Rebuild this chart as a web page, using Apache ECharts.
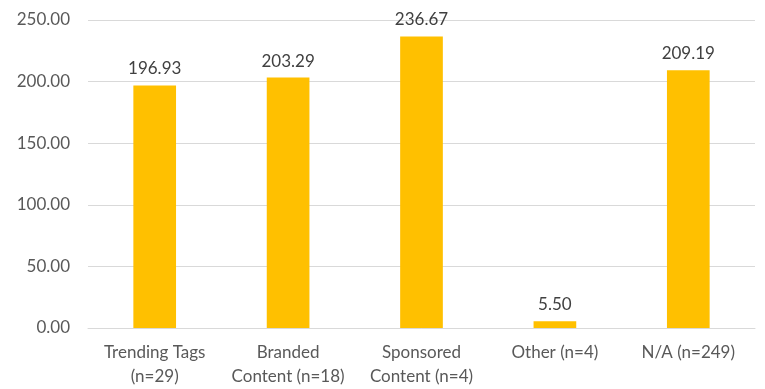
<!DOCTYPE html>
<html><head><meta charset="utf-8">
<script src="https://cdn.jsdelivr.net/npm/echarts@6/dist/echarts.min.js"></script>
<style>html,body{margin:0;padding:0;background:#fff}#c{width:765px;height:389px}</style>
</head><body><div id="c"></div>
<script>
const categories = ['Trending Tags\n(n=29)', 'Branded\nContent (n=18)', 'Sponsored\nContent (n=4)', 'Other (n=4)', 'N/A (n=249)'];
const values = [196.93, 203.29, 236.67, 5.50, 209.19];
const yTicks = [0, 50, 100, 150, 200, 250];

const chart = echarts.init(document.getElementById('c'));
const font = 'Lato, "Open Sans", sans-serif';
chart.setOption({
  animation: false,
  grid: {left: 88, right: 10, top: 20, bottom: 56, containLabel: false},
  xAxis: {
    type: 'category', data: categories,
    axisLine: {lineStyle: {color: '#d9d9d9', width: 1}},
    axisTick: {show: false},
    axisLabel: {color: '#595959', fontFamily: font, fontSize: 17, lineHeight: 24, margin: 13, interval: 0}
  },
  yAxis: {
    type: 'value', min: yTicks[0], max: yTicks[yTicks.length - 1], interval: 50,
    axisLine: {show: false}, axisTick: {show: false},
    splitLine: {lineStyle: {color: '#d9d9d9', width: 1}},
    axisLabel: {color: '#595959', fontFamily: font, fontSize: 17, margin: 18,
      formatter: v => v.toFixed(2)}
  },
  series: [{
    type: 'bar', data: values, barWidth: '32%',
    itemStyle: {color: '#FFC000'},
    label: {show: true, position: 'top', distance: 8, color: '#404040', fontFamily: font, fontSize: 17,
      formatter: p => p.value.toFixed(2)}
  }]
});
</script></body></html>
